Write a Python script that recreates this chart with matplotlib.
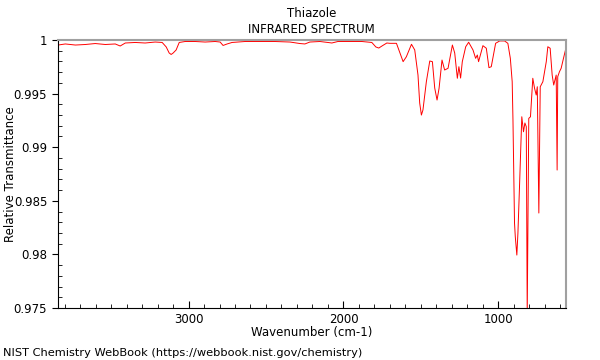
import matplotlib
matplotlib.use('Agg')
import matplotlib.pyplot as plt
from matplotlib.ticker import MultipleLocator

# wavenumber (cm-1) and relative transmittance
wavenumber = [3842, 3795, 3730, 3666, 3602, 3537, 3473, 3441, 3408, 3344,
              3280, 3215, 3170, 3144, 3125, 3112, 3099, 3080, 3060, 3022,
              2957, 2893, 2828, 2796, 2777, 2751, 2719, 2635, 2539, 2442,
              2345, 2281, 2249, 2217, 2152, 2101, 2075, 2036, 1959, 1881,
              1817, 1791, 1772, 1746, 1720, 1701, 1658, 1615, 1594, 1561,
              1540, 1519, 1508, 1497, 1487, 1465, 1443, 1426, 1411, 1396,
              1383, 1364, 1347, 1325, 1297, 1282, 1265, 1255, 1244, 1233,
              1211, 1192, 1164, 1147, 1136, 1128, 1100, 1078, 1061, 1046,
              1018, 992, 960, 939, 923, 911, 906, 896, 891, 881,
              874, 863, 849, 838, 829, 820, 814, 804, 793, 778,
              767, 756, 749, 739, 730, 713, 691, 681, 666, 653,
              643, 627, 621, 617, 606, 595, 580, 567]
transmittance = [0.99953, 0.99963, 0.99953, 0.99958, 0.99967, 0.99958, 0.99963, 0.99944, 0.99972, 0.99977,
                 0.99972, 0.99981, 0.99977, 0.99935, 0.99879, 0.99865, 0.99879, 0.99907, 0.99977, 0.99986,
                 0.99986, 0.99981, 0.99986, 0.99981, 0.99949, 0.99963, 0.99977, 0.99986, 0.99986, 0.99986,
                 0.99981, 0.99967, 0.99963, 0.99981, 0.99986, 0.99977, 0.99972, 0.99986, 0.99986, 0.99986,
                 0.99977, 0.99935, 0.99925, 0.99949, 0.99972, 0.99969, 0.99969, 0.99798, 0.99844, 0.99960,
                 0.99907, 0.99673, 0.99412, 0.99300, 0.99347, 0.99611, 0.99804, 0.99798, 0.99552, 0.99440,
                 0.99549, 0.99813, 0.99720, 0.99736, 0.99953, 0.99879, 0.99643, 0.99751, 0.99645, 0.99798,
                 0.99937, 0.99979, 0.99907, 0.99829, 0.99860, 0.99798, 0.99947, 0.99923, 0.99742, 0.99751,
                 0.99969, 0.99991, 0.99991, 0.99969, 0.99829, 0.99611, 0.99254, 0.98293, 0.98165, 0.97994,
                 0.98199, 0.98666, 0.99284, 0.99144, 0.99226, 0.99191, 0.97434, 0.99269, 0.99284, 0.99643,
                 0.99552, 0.99487, 0.99564, 0.98386, 0.99564, 0.99611, 0.99798, 0.99937, 0.99923, 0.99673,
                 0.99580, 0.99673, 0.98787, 0.99658, 0.99704, 0.99736, 0.99829, 0.99907]

fig = plt.figure(figsize=(6, 3.6), dpi=100)
ax = fig.add_axes([0.096, 0.1444, 0.847, 0.7445])

ax.plot(wavenumber, transmittance, color='red', linewidth=0.7)

ax.set_xlim(3845, 565)
ax.set_ylim(0.975, 1.0)

ax.xaxis.set_major_locator(MultipleLocator(1000))
ax.xaxis.set_minor_locator(MultipleLocator(100))
ax.yaxis.set_minor_locator(MultipleLocator(0.001))
ax.set_yticks([0.975, 0.98, 0.985, 0.99, 0.995, 1.0])
ax.set_yticklabels(['0.975', '0.98', '0.985', '0.99', '0.995', '1'])

ax.tick_params(axis='x', which='major', direction='in', length=5, labelsize=8.5)
ax.tick_params(axis='x', which='minor', direction='in', length=3)
ax.tick_params(axis='y', which='major', direction='out', length=4, labelsize=8.5)
ax.tick_params(axis='y', which='minor', direction='in', length=3)
ax.tick_params(top=False, right=False, which='both')

for s in ['top', 'right']:
    ax.spines[s].set_color('#a0a0a0')
    ax.spines[s].set_linewidth(1.5)

ax.set_xlabel('Wavenumber (cm-1)', fontsize=8.5, labelpad=0)
ax.set_ylabel('Relative Transmittance', fontsize=8.5)
ax.yaxis.set_label_coords(-0.08, 0.5)
ax.set_title('Thiazole\nINFRARED SPECTRUM', fontsize=8.5, pad=5, linespacing=1.3)

fig.text(0.005, 0.01, 'NIST Chemistry WebBook (https://webbook.nist.gov/chemistry)', fontsize=8.2)

fig.savefig('out.png', dpi=100)
